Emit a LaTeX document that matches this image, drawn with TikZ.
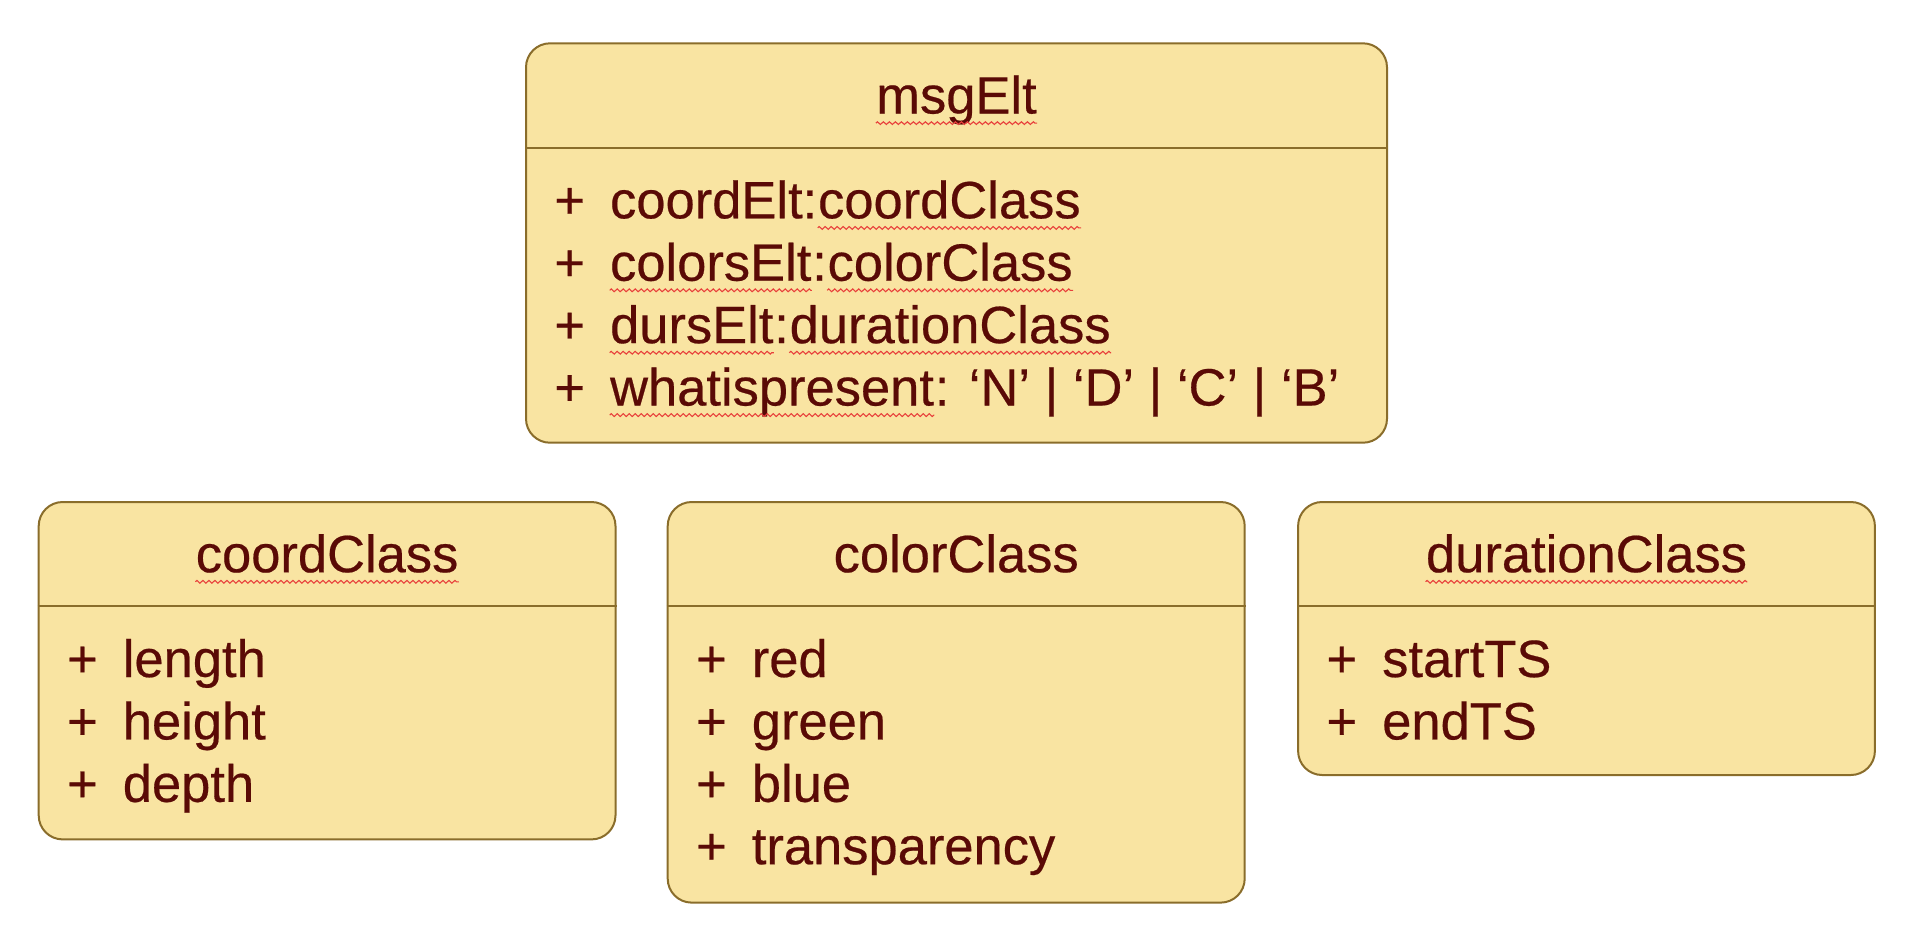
\documentclass[tikz,border=0pt]{standalone}
\usepackage{fontspec}
\setmainfont[FakeBold=0.4]{Liberation Sans}
\usetikzlibrary{calc, decorations.pathmorphing}

\definecolor{umlfill}{HTML}{F9E4A2}
\definecolor{umlline}{HTML}{8A6D2B}
\definecolor{umltext}{HTML}{5A0A06}
\definecolor{squigred}{HTML}{E8413C}

\tikzset{
  classbox/.style={draw=umlline, fill=umlfill, line width=1pt, rounded corners=12pt,
    rectangle, inner sep=0pt, anchor=north west},
  divider/.style={draw=umlline, line width=1pt},
  txt/.style={inner sep=0pt, anchor=base west, text=umltext,
    font=\fontsize{26.25}{31}\selectfont},
  squig/.style={draw=squigred, line width=0.55pt, decorate,
    decoration={zigzag, amplitude=0.7pt, segment length=3pt}}
}

\begin{document}
\begin{tikzpicture}[x=0.5pt, y=-0.5pt]
  \useasboundingbox (0,0) rectangle (1908,950);

  \node[classbox, minimum width=430.5pt, minimum height=199.7pt] (msg) at (525,42.3) {};
  \node[classbox, minimum width=288.4pt, minimum height=168.7pt] (coord) at (37.7,501) {};
  \node[classbox, minimum width=288.5pt, minimum height=200.3pt] (color) at (666.7,501) {};
  \node[classbox, minimum width=288.4pt, minimum height=136.5pt] (dur) at (1297.1,501) {};

  \draw[divider] ($(msg.north west)+(0,105.3)$) -- ($(msg.north east)+(0,105.3)$);
  \draw[divider] ($(coord.north west)+(0,105.3)$) -- ($(coord.north east)+(0,105.3)$);
  \draw[divider] ($(color.north west)+(0,105.3)$) -- ($(color.north east)+(0,105.3)$);
  \draw[divider] ($(dur.north west)+(0,105.3)$) -- ($(dur.north east)+(0,105.3)$);

  % msgElt
  \node[txt, anchor=base] (msgT) at ($(msg.north)+(0,71.2)$) {msgElt};
  \draw[squig] ([yshift=-4.8pt]msgT.base west) -- ([yshift=-4.8pt]msgT.base east);

  \node[txt] (m1p) at ($(msg.north west)+(29,176)$) {+};
  \node[txt] (m1a) at ($(msg.north west)+(84.7,176)$) {coordElt:};
  \node[txt] (m1b) at (m1a.base east) {coordClass};
  \draw[squig] ([yshift=-4.8pt]m1b.base west) -- ([yshift=-4.8pt]m1b.base east);

  \node[txt] (m2p) at ($(msg.north west)+(29,238.4)$) {+};
  \node[txt] (m2a) at ($(msg.north west)+(84.7,238.4)$) {colorsElt};
  \node[txt] (m2b) at (m2a.base east) {:};
  \node[txt] (m2c) at (m2b.base east) {colorClass};
  \draw[squig] ([yshift=-4.8pt]m2a.base west) -- ([yshift=-4.8pt]m2a.base east);
  \draw[squig] ([yshift=-4.8pt]m2c.base west) -- ([yshift=-4.8pt]m2c.base east);

  \node[txt] (m3p) at ($(msg.north west)+(29,300.8)$) {+};
  \node[txt] (m3a) at ($(msg.north west)+(84.7,300.8)$) {dursElt};
  \node[txt] (m3b) at (m3a.base east) {:};
  \node[txt] (m3c) at (m3b.base east) {durationClass};
  \draw[squig] ([yshift=-4.8pt]m3a.base west) -- ([yshift=-4.8pt]m3a.base east);
  \draw[squig] ([yshift=-4.8pt]m3c.base west) -- ([yshift=-4.8pt]m3c.base east);

  \node[txt] (m4p) at ($(msg.north west)+(29,363.2)$) {+};
  \node[txt] (m4a) at ($(msg.north west)+(84.7,363.2)$) {whatispresent};
  \node[txt] (m4b) at (m4a.base east) {: ‘N’ | ‘D’ | ‘C’ | ‘B’};
  \draw[squig] ([yshift=-4.8pt]m4a.base west) -- ([yshift=-4.8pt]m4a.base east);

  % coordClass
  \node[txt, anchor=base] (coordT) at ($(coord.north)+(0,71.2)$) {coordClass};
  \draw[squig] ([yshift=-4.8pt]coordT.base west) -- ([yshift=-4.8pt]coordT.base east);
  \node[txt] (c1p) at ($(coord.north west)+(29,176)$) {+};
  \node[txt] (c1) at ($(coord.north west)+(84.7,176)$) {length};
  \node[txt] (c2p) at ($(coord.north west)+(29,238.4)$) {+};
  \node[txt] (c2) at ($(coord.north west)+(84.7,238.4)$) {height};
  \node[txt] (c3p) at ($(coord.north west)+(29,300.8)$) {+};
  \node[txt] (c3) at ($(coord.north west)+(84.7,300.8)$) {depth};

  % colorClass
  \node[txt, anchor=base] (colorT) at ($(color.north)+(0,71.2)$) {colorClass};
  \node[txt] (k1p) at ($(color.north west)+(29,176)$) {+};
  \node[txt] (k1) at ($(color.north west)+(84.7,176)$) {red};
  \node[txt] (k2p) at ($(color.north west)+(29,238.4)$) {+};
  \node[txt] (k2) at ($(color.north west)+(84.7,238.4)$) {green};
  \node[txt] (k3p) at ($(color.north west)+(29,300.8)$) {+};
  \node[txt] (k3) at ($(color.north west)+(84.7,300.8)$) {blue};
  \node[txt] (k4p) at ($(color.north west)+(29,363.2)$) {+};
  \node[txt] (k4) at ($(color.north west)+(84.7,363.2)$) {transparency};

  % durationClass
  \node[txt, anchor=base] (durT) at ($(dur.north)+(0,71.2)$) {durationClass};
  \draw[squig] ([yshift=-4.8pt]durT.base west) -- ([yshift=-4.8pt]durT.base east);
  \node[txt] (d1p) at ($(dur.north west)+(29,176)$) {+};
  \node[txt] (d1) at ($(dur.north west)+(84.7,176)$) {startTS};
  \node[txt] (d2p) at ($(dur.north west)+(29,238.4)$) {+};
  \node[txt] (d2) at ($(dur.north west)+(84.7,238.4)$) {endTS};

\end{tikzpicture}
\end{document}
